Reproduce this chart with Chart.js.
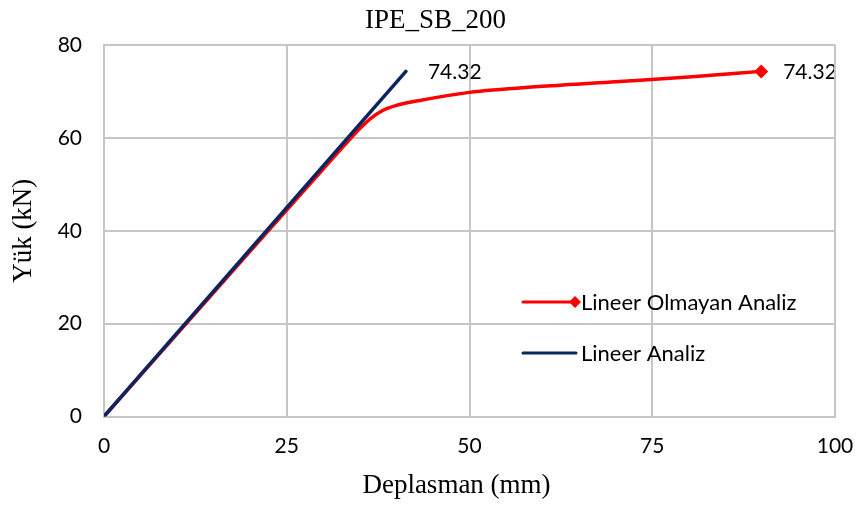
<!DOCTYPE html>
<html>
<head>
<meta charset="utf-8">
<script src="https://cdn.jsdelivr.net/npm/chart.js@4/dist/chart.umd.min.js"></script>
<style>
html,body{margin:0;padding:0;background:#fff;}
#wrap{width:857px;height:506px;position:relative;}
</style>
</head>
<body>
<div id="wrap"><canvas id="c" width="857" height="506"></canvas></div>
<script>
// Data
const chartTitle = "IPE_SB_200";
const xAxisTitle = "Deplasman (mm)";
const yAxisTitle = "Yük (kN)";
const seriesNames = ["Lineer Olmayan Analiz", "Lineer Analiz"];

const nonlinearX = [0, 10, 20, 30, 33, 35, 36.5, 38, 40, 43, 50, 60, 70, 80, 89.9];
const nonlinearY = [0, 17.8, 35.6, 53.3, 58.6, 62.0, 64.2, 65.8, 67.0, 68.0, 69.8, 71.1, 72.1, 73.1, 74.32];

const linearX = [0, 41.3];
const linearY = [0, 74.32];

const xTicks = [0, 25, 50, 75, 100];
const yTicks = [0, 20, 40, 60, 80];

const toPts = (xs, ys) => xs.map((x, i) => ({x: x, y: ys[i]}));

const RED = "#ff0000";
const NAVY = "#0b2560";
const GRID = "#c6c6c6";
const SANS = "Lato, 'Open Sans', sans-serif";
const SERIF = "'Liberation Serif', 'Times New Roman', serif";

const overlay = {
  id: "overlay",
  afterDatasetsDraw(chart) {
    const ctx = chart.ctx;
    const xs = chart.scales.x, ys = chart.scales.y;
    const ca = chart.chartArea;
    ctx.save();
    // end-point data labels
    ctx.font = "21px " + SANS;
    ctx.fillStyle = "#000";
    ctx.textBaseline = "middle";
    ctx.textAlign = "left";
    const lx = linearX[linearX.length - 1], ly = linearY[linearY.length - 1];
    ctx.fillText(ly.toFixed(2), xs.getPixelForValue(lx) + 22, ys.getPixelForValue(ly) + 1);
    const nx = nonlinearX[nonlinearX.length - 1], ny = nonlinearY[nonlinearY.length - 1];
    ctx.fillText(ny.toFixed(2), xs.getPixelForValue(nx) + 22, ys.getPixelForValue(ny) + 1);

    // legend inside plot
    const legX = ca.left + 419;
    const rows = [
      {name: seriesNames[0], color: RED, marker: true, y: ca.top + 257},
      {name: seriesNames[1], color: NAVY, marker: false, y: ca.top + 308}
    ];
    rows.forEach(r => {
      ctx.strokeStyle = r.color;
      ctx.lineWidth = 3;
      ctx.lineCap = "round";
      ctx.beginPath();
      ctx.moveTo(legX, r.y);
      ctx.lineTo(legX + 53, r.y);
      ctx.stroke();
      if (r.marker) {
        ctx.fillStyle = r.color;
        ctx.beginPath();
        const cx = legX + 52, s = 6;
        ctx.moveTo(cx, r.y - s); ctx.lineTo(cx + s, r.y); ctx.lineTo(cx, r.y + s); ctx.lineTo(cx - s, r.y);
        ctx.closePath(); ctx.fill();
      }
      ctx.fillStyle = "#000";
      ctx.font = "22px " + SANS;
      ctx.textAlign = "left";
      ctx.fillText(r.name, legX + 58, r.y + 1);
    });
    ctx.restore();
  }
};

new Chart(document.getElementById("c"), {
  type: "scatter",
  data: {
    datasets: [
      {
        label: seriesNames[0],
        data: toPts(nonlinearX, nonlinearY),
        showLine: true,
        borderColor: RED,
        backgroundColor: RED,
        borderWidth: 3.5,
        cubicInterpolationMode: "monotone",
        pointStyle: "rectRot",
        pointRadius: nonlinearX.map((v, i) => i === nonlinearX.length - 1 ? 7 : 0),
        pointBorderWidth: 0,
        order: 2
      },
      {
        label: seriesNames[1],
        data: toPts(linearX, linearY),
        showLine: true,
        borderColor: NAVY,
        backgroundColor: NAVY,
        borderWidth: 3.5,
        borderCapStyle: "round",
        pointRadius: 0,
        order: 1
      }
    ]
  },
  options: {
    responsive: false,
    animation: false,
    layout: {padding: {left: 0, right: 22, top: 45, bottom: 0}},
    plugins: {
      legend: {display: false},
      tooltip: {enabled: false},
      title: {display: false}
    },
    scales: {
      x: {
        type: "linear",
        min: 0, max: 100,
        afterBuildTicks: s => { s.ticks = xTicks.map(v => ({value: v})); },
        afterFit: s => { s.height = 89.5; s.paddingLeft = 0; s.paddingRight = 0; },
        grid: {color: GRID, lineWidth: 2, drawTicks: false},
        border: {display: true, color: GRID, width: 2},
        ticks: {color: "#000", font: {family: SANS, size: 21}, padding: 17, maxRotation: 0},
        title: {display: false, text: xAxisTitle}
      },
      y: {
        type: "linear",
        min: 0, max: 80,
        afterBuildTicks: s => { s.ticks = yTicks.map(v => ({value: v})); },
        afterFit: s => { s.width = 104; s.paddingTop = 0; s.paddingBottom = 0; },
        grid: {color: GRID, lineWidth: 2, drawTicks: false},
        border: {display: true, color: GRID, width: 2},
        ticks: {color: "#000", font: {family: SANS, size: 21}, padding: 22},
        title: {display: true, text: yAxisTitle, color: "#000", font: {family: SERIF, size: 27}, padding: {top: 8, bottom: 0}}
      }
    }
  },
  plugins: [overlay, {
    id: "topTitle",
    afterDraw(chart) {
      const ctx = chart.ctx;
      const ca = chart.chartArea;
      ctx.save();
      ctx.strokeStyle = GRID; ctx.lineWidth = 2;
      ctx.beginPath(); ctx.moveTo(ca.left, ca.top); ctx.lineTo(ca.right, ca.top); ctx.stroke();
      ctx.beginPath(); ctx.moveTo(ca.right, ca.top); ctx.lineTo(ca.right, ca.bottom); ctx.stroke();
      ctx.fillStyle = "#000";
      ctx.font = "27px " + SERIF;
      ctx.textAlign = "center";
      ctx.textBaseline = "alphabetic";
      ctx.fillText(chartTitle, (ca.left + ca.right) / 2 - 34, 28);
      ctx.textBaseline = "middle";
      ctx.fillText(xAxisTitle, (ca.left + ca.right) / 2 - 13, 486);
      ctx.restore();
    }
  }]
});
</script>
</body>
</html>
